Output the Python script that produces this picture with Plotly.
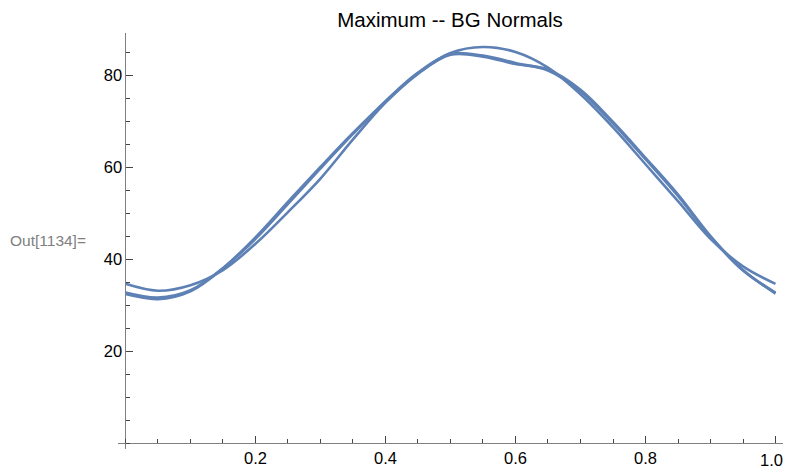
import plotly.graph_objects as go

x_vals = [0.0, 0.05, 0.10, 0.15, 0.20, 0.25, 0.30, 0.35, 0.40, 0.45, 0.50,
          0.55, 0.60, 0.65, 0.70, 0.75, 0.80, 0.85, 0.90, 0.95, 1.0]
series_a = [34.6, 33.1, 34.3, 37.6, 43.3, 50.2, 57.5, 66.0, 74.0, 80.3, 84.8,
            86.1, 85.0, 81.6, 75.8, 68.6, 60.6, 52.6, 44.4, 38.4, 34.6]
series_b1 = [32.4, 31.3, 33.0, 38.0, 44.7, 52.4, 60.0, 67.4, 74.2, 80.3, 84.4,
             84.0, 82.4, 81.2, 76.8, 69.8, 62.0, 54.0, 45.0, 37.6, 32.5]
series_b2 = [32.7, 31.6, 33.2, 38.0, 44.4, 52.0, 59.7, 67.2, 74.3, 80.5, 84.6,
             84.2, 82.6, 81.0, 76.5, 69.5, 61.7, 53.7, 44.8, 37.5, 32.7]

x_ticks = [0.2, 0.4, 0.6, 0.8, 1.0]
x_ticklabels = ["0.2", "0.4", "0.6", "0.8", "1.0"]
y_ticks = [20, 40, 60, 80]
y_ticklabels = ["20", "40", "60", "80"]

color = "#5E81B5"
fig = go.Figure()
for ys, w in [(series_b1, 2.7), (series_b2, 2.7), (series_a, 2.6)]:
    fig.add_trace(go.Scatter(x=x_vals, y=ys, mode="lines",
                             line=dict(color=color, width=w, shape="spline", smoothing=1.0),
                             showlegend=False, hoverinfo="skip", cliponaxis=False))

x0, x1 = -0.0115, 1.0223
y0, y1 = -1.3, 89.13
font = dict(family="Liberation Sans, Arial, sans-serif", size=16.5, color="black")

# the last x label is placed as an annotation so it stays inside the page (as in the reference)
shown_ticktext = x_ticklabels[:-1] + [""]

# page body adds an 8px offset; figure is sized/margined to compensate
W, H = 783, 461
fig.update_layout(
    width=W, height=H,
    margin=dict(l=110, r=1, t=25, b=20, autoexpand=False),
    paper_bgcolor="white", plot_bgcolor="white",
    title=dict(text="Maximum -- BG Normals", x=442 / W, xanchor="center",
               y=1 - 12 / H, yanchor="middle",
               font=dict(family="Liberation Sans, Arial, sans-serif", size=20.5, color="black")),
    xaxis=dict(range=[x0, x1], showgrid=False, zeroline=False, showline=True,
               linecolor="#808080", linewidth=1, anchor="free", automargin=False,
               position=(0 - y0) / (y1 - y0),
               tickmode="array", tickvals=x_ticks, ticktext=shown_ticktext,
               ticks="inside", ticklen=7, tickcolor="#444", tickwidth=1,
               minor=dict(ticks="inside", ticklen=4, tickcolor="#444", dtick=0.05, tick0=0,
                          showgrid=False),
               tickfont=font),
    yaxis=dict(range=[y0, y1], showgrid=False, zeroline=False, showline=True,
               linecolor="#808080", linewidth=1, anchor="free", automargin=False,
               position=(0 - x0) / (x1 - x0),
               tickmode="array", tickvals=y_ticks, ticktext=y_ticklabels,
               ticks="inside", ticklen=7, tickcolor="#444", tickwidth=1,
               minor=dict(ticks="inside", ticklen=4, tickcolor="#444", dtick=5, tick0=0,
                          showgrid=False),
               tickfont=font),
)

fig.add_annotation(text=x_ticklabels[-1], xref="x", yref="paper",
                   x=x_ticks[-1], xshift=-4, y=(449 - 460) / 416,
                   xanchor="center", yanchor="middle", showarrow=False, font=font)

fig.add_annotation(text="Out[1134]=", xref="paper", yref="paper",
                   x=-110 / 672, y=(449 - 240) / 416,
                   xanchor="left", yanchor="middle", showarrow=False,
                   font=dict(family="Liberation Sans, Arial, sans-serif", size=15.5, color="#808080"))

fig.write_html("out.html")
